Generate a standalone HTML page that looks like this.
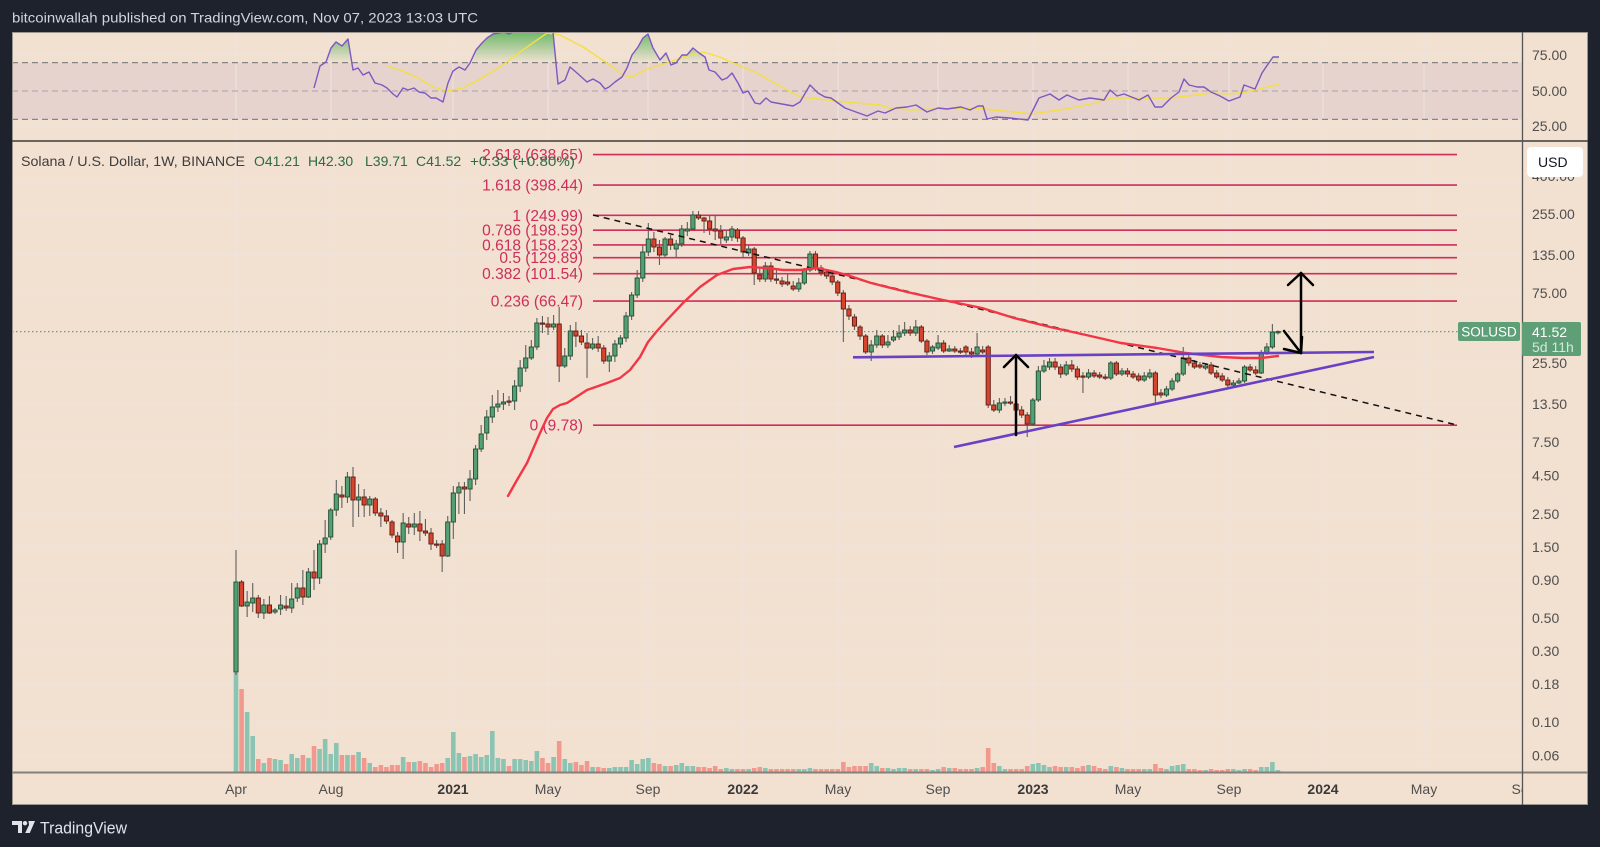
<!DOCTYPE html>
<html><head><meta charset="utf-8">
<style>
html,body{margin:0;padding:0;background:#1e222d;overflow:hidden;}
svg{display:block;}
text{font-family:"Liberation Sans",Arial,sans-serif;}
</style></head><body>
<svg id="s" xmlns="http://www.w3.org/2000/svg" width="1600" height="847" viewBox="0 0 1600 847">
<defs>
<clipPath id="mainClip"><rect x="12" y="142" width="1510" height="630"/></clipPath>
<clipPath id="rsiClip"><rect x="12" y="32" width="1510" height="109"/></clipPath>
<clipPath id="obClip"><rect x="12" y="32" width="1510" height="30.6"/></clipPath>
<clipPath id="taClip"><rect x="12" y="773" width="1510" height="32"/></clipPath>
<linearGradient id="gg" x1="0" y1="32" x2="0" y2="62.6" gradientUnits="userSpaceOnUse">
<stop offset="0" stop-color="#4caf50" stop-opacity="0.8"/>
<stop offset="1" stop-color="#4caf50" stop-opacity="0"/>
</linearGradient>
</defs>
<rect width="1600" height="847" fill="#1e222d"/>
<text x="12" y="22.5" font-size="14" fill="#d1d4dc" textLength="466" lengthAdjust="spacingAndGlyphs">bitcoinwallah published on TradingView.com, Nov 07, 2023 13:03 UTC</text>

<!-- panel -->
<rect x="12" y="32" width="1576" height="773" fill="#f2e0d0"/>

<!-- RSI pane -->
<g clip-path="url(#rsiClip)">
<rect x="12" y="62.6" width="1510" height="56.8" fill="#e6d3ce"/>
<g stroke="#ece5df" stroke-width="1">
<line x1="12" y1="55" x2="1522" y2="55"/>
<line x1="12" y1="126" x2="1522" y2="126"/>
<line x1="236" y1="32" x2="236" y2="141"/><line x1="331" y1="32" x2="331" y2="141"/><line x1="453" y1="32" x2="453" y2="141"/><line x1="548" y1="32" x2="548" y2="141"/><line x1="648" y1="32" x2="648" y2="141"/><line x1="743" y1="32" x2="743" y2="141"/><line x1="838" y1="32" x2="838" y2="141"/><line x1="938" y1="32" x2="938" y2="141"/><line x1="1033" y1="32" x2="1033" y2="141"/><line x1="1128" y1="32" x2="1128" y2="141"/><line x1="1229" y1="32" x2="1229" y2="141"/><line x1="1323" y1="32" x2="1323" y2="141"/><line x1="1424" y1="32" x2="1424" y2="141"/>
</g>
<line x1="12" y1="62.6" x2="1522" y2="62.6" stroke="#858585" stroke-width="1.3" stroke-dasharray="6 4"/>
<line x1="12" y1="91" x2="1522" y2="91" stroke="#a6a0ad" stroke-width="1.1" stroke-dasharray="6 4"/>
<line x1="12" y1="119.4" x2="1522" y2="119.4" stroke="#858585" stroke-width="1.3" stroke-dasharray="6 4"/>
<path id="obfill" clip-path="url(#obClip)" fill="url(#gg)" d=""/>
<polyline id="rsima" fill="none" stroke="#f3df45" stroke-width="1.4" points="387,66 403,71 420,79 433,87 447,91 463,88 480,79 500,67 520,52 547,33 560,35 583,47 607,63 623,75 632,77 647,69 667,63 683,57 703,52 720,57 733,63 757,73 780,86 800,97 845,102 880,105 889,108 912,110 934,109 979,108 992,110 1014,112 1032,114 1059,110 1077,107 1095,103 1112,98 1135,98 1171,98 1188,96 1211,93 1229,94 1246,92 1264,88 1279,84"/>
<polyline id="rsi" fill="none" stroke="#7e57c2" stroke-width="1.4" stroke-linejoin="round" points="314,88 320,66 326,62 331,48 336,42 342,46 348,39 353,70 358,68 363,75 369,72 375,83 382,85 387,88 393,94 397,97 403,88 408,90 414,88 419,92 425,93 431,98 436,98 443,102 448,83 453,71 459,67 465,70 470,63 476,50 482,43 487,38 493,34 499,33 504,32 509,34 513,32 553,32 558,84 565,80 570,67 577,73 587,82 593,79 600,83 605,89 609,87 615,82 622,77 627,68 632,55 638,47 643,38 648,34 653,48 660,60 666,53 671,65 676,63 682,55 687,55 693,48 699,53 705,57 709,70 715,72 722,80 727,78 732,73 738,83 743,93 748,91 755,103 760,104 766,98 771,102 793,106 800,102 810,85 818,93 825,97 831,98 845,108 867,116 878,111 885,113 896,108 907,107 916,105 927,112 938,108 947,109 961,107 970,110 978,106 983,106 987,119 996,117 1010,118 1028,120 1039,98 1050,94 1059,100 1067,95 1079,100 1090,98 1104,100 1110,90 1117,96 1124,94 1139,100 1148,95 1155,107 1162,107 1171,98 1179,92 1184,79 1189,85 1197,87 1204,87 1211,92 1220,96 1229,101 1240,97 1244,85 1255,89 1262,73 1266,67 1273,57 1279,57"/>
</g>

<!-- main pane -->
<g clip-path="url(#mainClip)">
<g stroke="#ece5df" stroke-width="1">
<line x1="12" y1="182" x2="1522" y2="182"/><line x1="12" y1="214" x2="1522" y2="214"/><line x1="12" y1="255" x2="1522" y2="255"/><line x1="12" y1="293" x2="1522" y2="293"/><line x1="12" y1="363" x2="1522" y2="363"/><line x1="12" y1="404" x2="1522" y2="404"/><line x1="12" y1="442" x2="1522" y2="442"/><line x1="12" y1="475.5" x2="1522" y2="475.5"/><line x1="12" y1="514" x2="1522" y2="514"/><line x1="12" y1="547" x2="1522" y2="547"/><line x1="12" y1="580" x2="1522" y2="580"/><line x1="12" y1="618" x2="1522" y2="618"/><line x1="12" y1="651" x2="1522" y2="651"/><line x1="12" y1="684" x2="1522" y2="684"/><line x1="12" y1="722" x2="1522" y2="722"/><line x1="12" y1="755.5" x2="1522" y2="755.5"/>
<line x1="236" y1="142" x2="236" y2="772"/><line x1="331" y1="142" x2="331" y2="772"/><line x1="453" y1="142" x2="453" y2="772"/><line x1="548" y1="142" x2="548" y2="772"/><line x1="648" y1="142" x2="648" y2="772"/><line x1="743" y1="142" x2="743" y2="772"/><line x1="838" y1="142" x2="838" y2="772"/><line x1="938" y1="142" x2="938" y2="772"/><line x1="1033" y1="142" x2="1033" y2="772"/><line x1="1128" y1="142" x2="1128" y2="772"/><line x1="1229" y1="142" x2="1229" y2="772"/><line x1="1323" y1="142" x2="1323" y2="772"/><line x1="1424" y1="142" x2="1424" y2="772"/>
</g>
<g id="vol"></g>
<g stroke="#cf2d5a" stroke-width="1.6">
<line x1="593" y1="154.6" x2="1457" y2="154.6"/>
<line x1="593" y1="185.1" x2="1457" y2="185.1"/>
<line x1="593" y1="215.3" x2="1457" y2="215.3"/>
<line x1="593" y1="230.2" x2="1457" y2="230.2"/>
<line x1="593" y1="244.9" x2="1457" y2="244.9"/>
<line x1="593" y1="257.7" x2="1457" y2="257.7"/>
<line x1="593" y1="273.7" x2="1457" y2="273.7"/>
<line x1="593" y1="301.1" x2="1457" y2="301.1"/>
<line x1="593" y1="425.2" x2="1457" y2="425.2"/>
</g>
<g font-size="15.5" fill="#cf2d5a" text-anchor="end">
<text x="583" y="160">2.618 (638.65)</text>
<text x="583" y="190.6">1.618 (398.44)</text>
<text x="583" y="220.8">1 (249.99)</text>
<text x="583" y="235.7">0.786 (198.59)</text>
<text x="583" y="250.4">0.618 (158.23)</text>
<text x="583" y="263.2">0.5 (129.89)</text>
<text x="583" y="279.2">0.382 (101.54)</text>
<text x="583" y="306.6">0.236 (66.47)</text>
<text x="583" y="430.7">0 (9.78)</text>
</g>
<line x1="12" y1="331.6" x2="1458" y2="331.6" stroke="#5e9e78" stroke-width="1.2" stroke-dasharray="1.5 2.5"/>
<g id="cand"></g>
<line x1="593" y1="215" x2="1457" y2="425" stroke="#111" stroke-width="1.5" stroke-dasharray="6 5"/>
<polyline fill="none" stroke="#f23645" stroke-width="2.4" stroke-linejoin="round" stroke-linecap="round" points="508,496 517,480 527,463 540,433 547,418 553,409 560,405 567,403 587,390 607,383 620,378 630,370 640,357 648,342 657,331 667,320 683,303 700,287 717,275 733,269 750,267 767,268 783,270 800,270 817,268 836,272 850,276 871,283 907,292 943,300 982,308 1014,318 1050,327 1086,335 1121,343 1157,348 1186,353 1221,357 1243,358 1261,358 1278,356"/>
<line x1="853" y1="357.3" x2="1374" y2="352" stroke="#6841c4" stroke-width="2.6"/>
<line x1="954" y1="447" x2="1374" y2="357" stroke="#6841c4" stroke-width="2.6"/>
<g stroke="#000" stroke-width="2.5" fill="none" stroke-linecap="round" stroke-linejoin="round">
<line x1="1016" y1="435" x2="1016" y2="355"/>
<polyline points="1004,367 1016,355 1028,367"/>
<line x1="1301" y1="273" x2="1301" y2="353"/>
<polyline points="1288,285 1301,273 1313,285"/>
<line x1="1284" y1="331" x2="1301" y2="353"/>
<polyline points="1284,349 1301,353 1302,337"/>
</g>
</g>

<!-- separators & borders -->
<rect x="12.5" y="32.5" width="1575" height="772" fill="none" stroke="#9a958f" stroke-width="1"/>
<line x1="12" y1="141" x2="1588" y2="141" stroke="#3c3c3c" stroke-width="1.6"/>
<line x1="12" y1="772.5" x2="1588" y2="772.5" stroke="#86807a" stroke-width="2"/>
<line x1="1522.5" y1="32" x2="1522.5" y2="805" stroke="#555" stroke-width="1.3"/>

<!-- legend -->
<g font-size="14">
<text x="21" y="166" fill="#3d3d3d" textLength="224" lengthAdjust="spacingAndGlyphs">Solana / U.S. Dollar, 1W, BINANCE</text>
<text x="254" y="166" fill="#2c6b45">O41.21</text>
<text x="308" y="166" fill="#2c6b45">H42.30</text>
<text x="365" y="166" fill="#2c6b45">L39.71</text>
<text x="416" y="166" fill="#2c6b45">C41.52</text>
<text x="470" y="166" fill="#2c6b45" textLength="105" lengthAdjust="spacingAndGlyphs">+0.33 (+0.80%)</text>
</g>

<!-- price axis -->
<g font-size="14" fill="#4f4f4f">
<text x="1532" y="60">75.00</text>
<text x="1532" y="96">50.00</text>
<text x="1532" y="131">25.00</text>
<text x="1532" y="181">400.00</text>
<text x="1532" y="219">255.00</text>
<text x="1532" y="260">135.00</text>
<text x="1532" y="298">75.00</text>
<text x="1532" y="368">25.50</text>
<text x="1532" y="409">13.50</text>
<text x="1532" y="447">7.50</text>
<text x="1532" y="480.5">4.50</text>
<text x="1532" y="519">2.50</text>
<text x="1532" y="552">1.50</text>
<text x="1532" y="585">0.90</text>
<text x="1532" y="623">0.50</text>
<text x="1532" y="656">0.30</text>
<text x="1532" y="689">0.18</text>
<text x="1532" y="727">0.10</text>
<text x="1532" y="760.5">0.06</text>
</g>
<rect x="1527" y="147" width="56" height="30" rx="4" fill="#ffffff"/>
<text x="1538" y="167" font-size="14" fill="#131722">USD</text>
<rect x="1458" y="322" width="62" height="19" rx="2" fill="#5e9f78"/>
<text x="1489" y="336.5" font-size="13.5" fill="#ffffff" text-anchor="middle">SOLUSD</text>
<rect x="1522" y="322" width="59" height="34" rx="2" fill="#5e9f78"/>
<text x="1532" y="337" font-size="14" fill="#ffffff">41.52</text>
<text x="1532" y="352" font-size="14" fill="#d4e8da">5d 11h</text>

<!-- time axis -->
<g font-size="14" fill="#4f4f4f" text-anchor="middle" clip-path="url(#taClip)">
<text x="236" y="794">Apr</text>
<text x="331" y="794">Aug</text>
<text x="453" y="794" font-weight="bold" fill="#3a3a3a">2021</text>
<text x="548" y="794">May</text>
<text x="648" y="794">Sep</text>
<text x="743" y="794" font-weight="bold" fill="#3a3a3a">2022</text>
<text x="838" y="794">May</text>
<text x="938" y="794">Sep</text>
<text x="1033" y="794" font-weight="bold" fill="#3a3a3a">2023</text>
<text x="1128" y="794">May</text>
<text x="1229" y="794">Sep</text>
<text x="1323" y="794" font-weight="bold" fill="#3a3a3a">2024</text>
<text x="1424" y="794">May</text>
<text x="1524" y="794">Sep</text>
</g>

<!-- footer -->
<g fill="#e1e3ea">
<path d="M12,821 h10 v12 h-4 v-8 h-6 z"/>
<circle cx="25" cy="823.2" r="2.2"/>
<path d="M28.5,821 h6.5 l-5.2,12 h-4.6 l3.8,-8 z"/>
</g>
<text x="40" y="833.5" font-size="17" fill="#e1e3ea" textLength="87" lengthAdjust="spacingAndGlyphs">TradingView</text>
</svg>
<script>
(function(){
var NS="http://www.w3.org/2000/svg";
function el(t,a,p){var e=document.createElementNS(NS,t);for(var k in a)e.setAttribute(k,a[k]);p.appendChild(e);return e;}
var D="672,582,550,675;582,606,580,607;606,602,591,617;603,598,583,612;598,613,595,618;613,605,599,619;605,613,596,614;612,610,608,614;609,605,595,615;606,608,596,611;608,599,583,613;598,588,583,602;588,597,570,605;597,572,568,598;572,578,550,590;578,544,540,584;544,538,520,553;537,510,508,540;510,494,480,516;495,497,486,508;497,477,472,503;477,500,467,527;500,497,484,517;497,505,489,517;505,499,496,516;499,513,497,516;513,516,508,527;516,521,510,524;522,535,520,538;536,542,532,553;542,523,513,559;524,527,517,534;527,524,513,535;524,531,511,541;531,533,519,536;533,544,528,550;544,545,540,548;544,556,540,572;556,522,516,557;522,493,486,539;493,487,482,514;487,489,482,514;489,479,470,501;479,449,445,485;449,434,425,452;433,417,410,440;417,407,395,423;407,404,390,412;404,402,393,410;401,402,396,406;401,386,380,410;386,368,360,392;368,358,345,372;358,347,340,360;347,323,318,350;323,324,316,333;324,327,317,335;327,324,315,330;324,366,307,382;366,356,348,368;356,331,325,360;331,336,322,347;336,342,330,345;343,348,333,378;348,344,338,350;344,348,336,352;348,361,345,364;361,356,352,372;356,344,340,362;344,338,335,348;338,316,312,342;316,295,292,320;295,278,270,298;278,252,245,282;252,239,223,256;239,247,232,252;247,255,240,265;255,239,237,258;239,245,235,250;249,244,240,257;244,229,225,247;231,229,222,236;229,215,211,230;215,218,211,220;218,221,217,233;221,229,215,235;229,231,215,240;231,238,225,244;240,237,230,243;237,229,226,241;230,238,228,242;238,252,236,258;253,249,245,256;249,273,247,285;275,279,268,282;279,266,262,282;266,279,262,282;279,280,268,284;281,284,277,287;282,284,274,286;286,289,281,291;289,283,278,292;283,270,268,285;270,254,251,272;254,269,251,271;268,273,265,276;272,276,270,279;276,282,274,285;282,293,280,296;293,309,290,342;309,316,305,320;317,326,314,330;327,336,325,340;336,352,334,354;352,345,340,361;345,336,330,348;336,345,334,348;345,342,335,348;340,337,330,342;337,333,325,340;333,330,322,336;330,333,326,336;333,327,320,336;327,341,325,343;341,352,339,355;351,347,345,354;348,343,335,350;343,351,340,353;351,349,345,352;349,351,346,353;351,352,348,354;347,352,345,356;352,354,348,358;354,347,333,357;350,352,346,354;347,405,345,408;405,410,400,412;410,403,398,413;403,402,398,406;402,403,396,405;404,410,400,412;410,415,406,418;415,424,412,437;424,400,398,426;400,371,366,402;371,366,360,373;367,362,358,370;362,367,358,370;367,374,364,378;374,365,361,376;365,369,360,372;369,377,366,380;376,377,372,393;377,373,369,379;373,376,370,378;375,377,372,379;377,378,374,380;378,363,361,380;363,374,361,376;374,371,368,376;371,374,368,377;374,377,371,379;376,380,373,382;380,376,372,382;377,373,369,379;373,395,371,405;393,395,389,398;395,389,386,397;389,381,378,391;381,374,372,383;374,358,347,376;358,363,355,366;363,367,360,369;365,367,362,369;368,366,363,370;365,373,362,375;373,377,370,379;376,380,373,382;380,385,377,387;385,383,380,386;383,381,378,384;381,367,365,383;367,370,364,372;370,373,366,375;373,353,350,374;353,347,343,355;347,332,324,349;332.1,331.6,330.4,334.5";
var V=[673,689,712,736,759,763,758,759,760,764,754,758,755,758,746,749,739,754,743,755,755,755,752,758,763,767,765,767,765,765,757,762,762,761,763,767,764,763,758,732,753,757,756,754,757,755,731,758,759,766,759,759,760,761,751,758,763,757,741,759,763,762,765,761,767,767,768,768,767,767,767,760,764,759,758,763,764,766,766,765,763,766,766,767,767,768,766,769,768,769,769,769,769,768,767,768,769,769,769,769,769,769,769,768,769,769,769,769,769,762,767,766,766,766,763,766,768,768,769,768,768,769,769,769,769,770,769,767,768,768,769,769,769,768,767,748,763,766,769,769,769,769,766,764,763,765,767,766,767,767,767,768,766,765,766,768,769,766,767,768,769,769,769,769,769,764,768,769,766,765,764,769,769,770,770,769,770,770,769,769,770,769,769,770,767,767,762,770];
var C=D.split(";").map(function(s){return s.split(",").map(Number);});
var gv=document.getElementById("vol"),gc=document.getElementById("cand");
C.forEach(function(c,i){
  var x=236+i*5.572, up=c[1]<=c[0];
  var vt=V[i]; if(vt!==undefined){el("rect",{x:(x-2.3).toFixed(2),y:vt,width:4.6,height:(772-vt).toFixed(2),fill:up?"#8cc4b4":"#f2998f"},gv);}
  el("line",{x1:x.toFixed(2),y1:c[2],x2:x.toFixed(2),y2:c[3],stroke:"#5f5f5f","stroke-width":1.1},gc);
  var top=Math.min(c[0],c[1]),h=Math.max(Math.abs(c[0]-c[1]),1.2);
  el("rect",{x:(x-2.1).toFixed(2),y:top,width:4.2,height:h,fill:up?"#55a073":"#d4442f",stroke:up?"#1f4d33":"#5e1b12","stroke-width":0.9},gc);
});
var pts=document.getElementById("rsi").getAttribute("points").trim().split(/\s+/);
var d="M314,62.6 L"+pts.join(" L")+" L1279,62.6 Z";
document.getElementById("obfill").setAttribute("d",d);
})();
</script>
</body></html>
